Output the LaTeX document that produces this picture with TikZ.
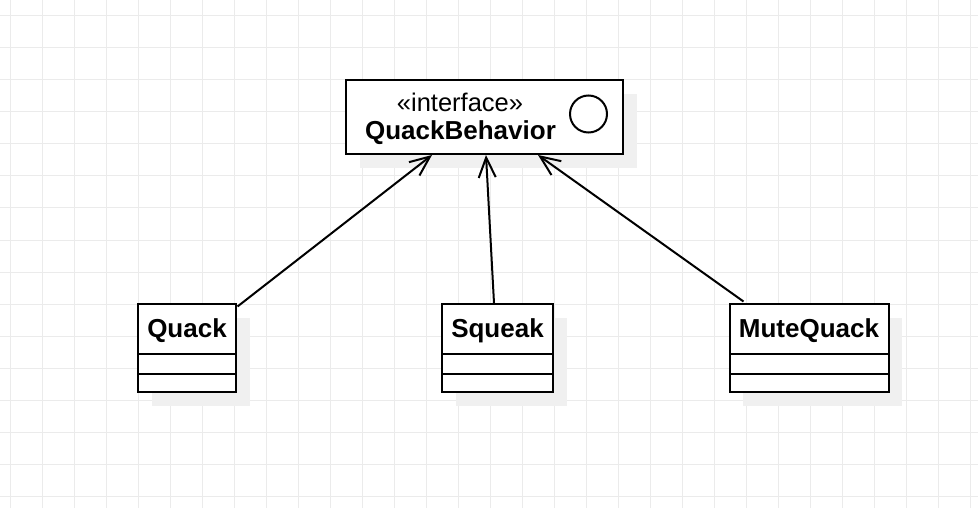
\documentclass[tikz,border=0pt]{standalone}
\usepackage{fontspec}
\setmainfont{Liberation Sans}
\usetikzlibrary{arrows.meta,calc}
\definecolor{gridc}{HTML}{EBEBEB}
\definecolor{shadowc}{HTML}{F0F0F0}
\tikzset{
  box/.style={draw=black, line width=2pt, fill=white, inner sep=0pt, outer sep=0pt},
  shadowbox/.style={fill=shadowc, draw=none},
  title/.style={font=\fontsize{26}{28}\selectfont\bfseries, inner sep=0pt},
  stereo/.style={font=\fontsize{25.5}{28}\selectfont, inner sep=0pt},
  dep/.style={line width=2pt, -{Straight Barb[length=20pt,width=17pt,line width=2pt]}},
}
\begin{document}
\begin{tikzpicture}[x=1pt,y=-1pt]
\useasboundingbox (0,0) rectangle (978,508);
\fill[white] (0,0) rectangle (978,508);
% grid
\foreach \gx in {10,42,...,970} \draw[gridc, line width=1pt] (\gx,0) -- (\gx,508);
\foreach \gy in {16,48,...,496} \draw[gridc, line width=1pt] (0,\gy) -- (978,\gy);
% shadows
\fill[shadowc] (360,94) rectangle (637,168);
\fill[shadowc] (152,318) rectangle (250,406);
\fill[shadowc] (456,318) rectangle (567,406);
\fill[shadowc] (743,318) rectangle (902,406);
% interface
\node[box, minimum width=277pt, minimum height=74pt] (qb) at (484.5,117) {};
\node[stereo] (qbs) at (460,102.5) {«interface»};
\node[title] (qbt) at (460.5,133) {QuackBehavior};
\draw[line width=2pt] (588.5,114) circle (18.5);
% classes
\node[box, minimum width=98pt, minimum height=88pt] (quack) at (187,348) {};
\node[title] (quackt) at (187,331) {Quack};
\draw[line width=2pt] ($(quack.north west)+(0,50)$) -- ($(quack.north east)+(0,50)$);
\draw[line width=2pt] ($(quack.north west)+(0,70)$) -- ($(quack.north east)+(0,70)$);
\node[box, minimum width=111pt, minimum height=88pt] (squeak) at (497.5,348) {};
\node[title] (squeakt) at (497.5,331) {Squeak};
\draw[line width=2pt] ($(squeak.north west)+(0,50)$) -- ($(squeak.north east)+(0,50)$);
\draw[line width=2pt] ($(squeak.north west)+(0,70)$) -- ($(squeak.north east)+(0,70)$);
\node[box, minimum width=159pt, minimum height=88pt] (mq) at (809,348) {};
\node[title] (mqt) at (809,331) {MuteQuack};
\draw[line width=2pt] ($(mq.north west)+(0,50)$) -- ($(mq.north east)+(0,50)$);
\draw[line width=2pt] ($(mq.north west)+(0,70)$) -- ($(mq.north east)+(0,70)$);
% connectors
\draw[dep] ($(quack.north east)+(1.5,2.5)$) -- ($(qb.south west)+(86,1)$);
\draw[dep] ($(squeak.north)+(-3.5,-1)$) -- ($(qb.south west)+(140,1)$);
\draw[dep] ($(mq.north west)+(14,-2.5)$) -- ($(qb.south west)+(192,1)$);
\end{tikzpicture}
\end{document}
